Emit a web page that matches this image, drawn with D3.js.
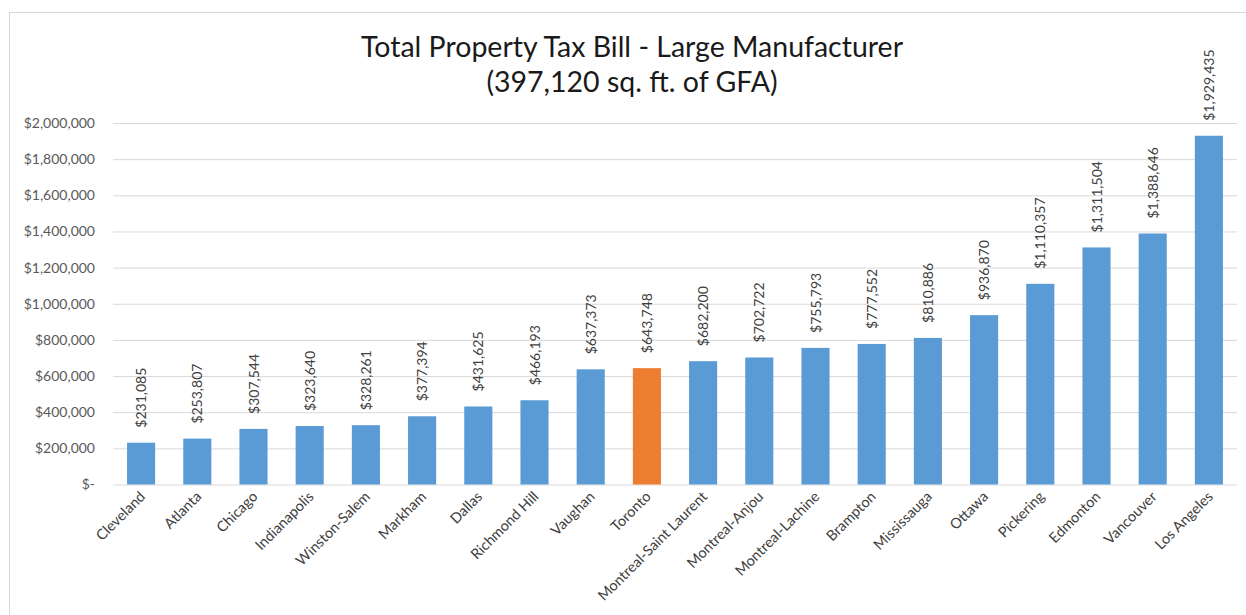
<!DOCTYPE html>
<html>
<head>
<meta charset="utf-8">
<script src="https://cdn.jsdelivr.net/npm/d3@7"></script>
<style>
  html, body { margin: 0; padding: 0; background: #fff; }
  svg { display: block; font-family: Lato, "Open Sans", sans-serif; }
</style>
</head>
<body>
<svg id="chart" width="1246" height="615"></svg>
<script>
// Total property tax bill by city, large manufacturer
const cities = ["Cleveland", "Atlanta", "Chicago", "Indianapolis", "Winston-Salem", "Markham",
  "Dallas", "Richmond Hill", "Vaughan", "Toronto", "Montreal-Saint Laurent", "Montreal-Anjou",
  "Montreal-Lachine", "Brampton", "Mississauga", "Ottawa", "Pickering", "Edmonton",
  "Vancouver", "Los Angeles"];
const taxBill = [231085, 253807, 307544, 323640, 328261, 377394, 431625, 466193, 637373,
  643748, 682200, 702722, 755793, 777552, 810886, 936870, 1110357, 1311504, 1388646, 1929435];
const highlightCity = "Toronto";
const yTicks = [0, 200000, 400000, 600000, 800000, 1000000, 1200000, 1400000, 1600000, 1800000, 2000000];
const titleLines = ["Total Property Tax Bill - Large Manufacturer", "(397,120 sq. ft. of GFA)"];

const svg = d3.select("#chart");
const W = 1246, H = 615;
const plot = { left: 113, right: 1237, top: 123, bottom: 484.5 };

// chart frame
svg.append("rect")
  .attr("x", 9.5).attr("y", 12.5)
  .attr("width", W).attr("height", H)
  .attr("fill", "#fff").attr("stroke", "#d9d9d9").attr("stroke-width", 1);

const x = d3.scaleBand().domain(cities).range([plot.left, plot.right]).paddingInner(0.5).paddingOuter(0.25);
const y = d3.scaleLinear().domain([0, 2000000]).range([plot.bottom, plot.top]);

const money = d3.format(",");
const tickFmt = v => v === 0 ? "$-" : "$" + money(v);

// gridlines + y labels
const yAxis = d3.axisLeft(y).tickValues(yTicks).tickSize(-(plot.right - plot.left)).tickPadding(18).tickFormat(tickFmt);
const gy = svg.append("g").attr("transform", `translate(${plot.left},0)`).call(yAxis);
gy.select(".domain").remove();
gy.selectAll(".tick line").attr("stroke", "#d9d9d9").attr("stroke-width", 1);
gy.selectAll(".tick text").attr("fill", "#595959").style("font-size", "14px").style("font-family", "Lato, sans-serif");

// bars
svg.append("g").selectAll("rect").data(cities).join("rect")
  .attr("x", d => x(d))
  .attr("y", (d, i) => y(taxBill[i]))
  .attr("width", x.bandwidth())
  .attr("height", (d, i) => y(0) - y(taxBill[i]))
  .attr("fill", d => d === highlightCity ? "#ed7d31" : "#5b9bd5");

// value labels, rotated
svg.append("g").selectAll("text").data(cities).join("text")
  .attr("transform", (d, i) => `translate(${x(d) + x.bandwidth() / 2 + 5},${y(taxBill[i]) - 15}) rotate(-90)`)
  .attr("text-anchor", "start")
  .attr("fill", "#404040")
  .style("font-size", "14px")
  .text((d, i) => "$" + money(taxBill[i]));

// category labels
svg.append("g").selectAll("text").data(cities).join("text")
  .attr("transform", d => `translate(${x(d) + x.bandwidth() / 2 + 5},${plot.bottom + 13}) rotate(-45)`)
  .attr("text-anchor", "end")
  .attr("fill", "#404040")
  .style("font-size", "14.5px")
  .text(d => d);

// title
svg.append("g").selectAll("text").data(titleLines).join("text")
  .attr("x", 632)
  .attr("y", (d, i) => 57 + i * 35)
  .attr("text-anchor", "middle")
  .attr("fill", "#1a1a1a")
  .style("font-size", "28.5px")
  .text(d => d);
</script>
</body>
</html>
